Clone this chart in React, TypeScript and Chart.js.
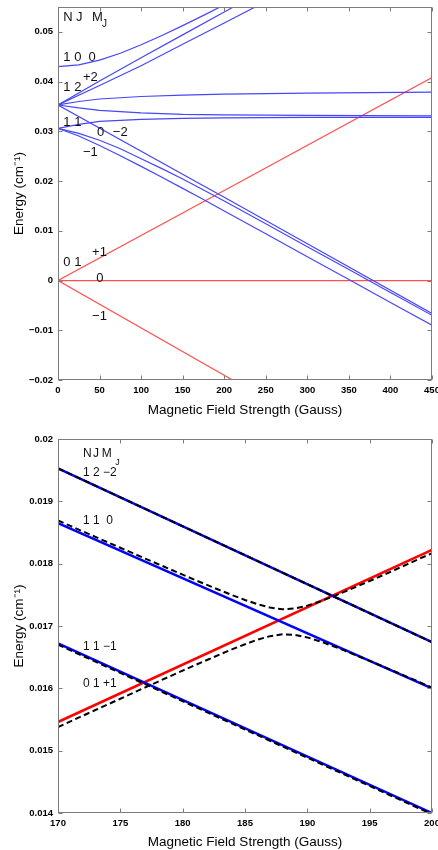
import React, { useEffect, useRef } from "react";
import { Chart, registerables } from "chart.js";
Chart.register(...registerables);

// ---------------- Top panel: Zeeman levels 0–450 G ----------------
const TOP_X_TICKS = [0, 50, 100, 150, 200, 250, 300, 350, 400, 450];
const TOP_Y_TICKS = [-0.02, -0.01, 0, 0.01, 0.02, 0.03, 0.04, 0.05];
const TOP_Y_LABELS = ["\u22120.02", "\u22120.01", "0", "0.01", "0.02", "0.03", "0.04", "0.05"];

// N=1 J=0 M=0
const B_CURVE = [0, 25, 50, 75, 100, 125, 150, 175, 200, 225];
const N1J0_M0 = [0.043, 0.04335, 0.04431, 0.04571, 0.0474, 0.04927, 0.05125, 0.05331, 0.05542, 0.05757];

// N=1 J=2 rising branches
const B_UP = [0, 50, 100, 150, 200, 250];
const N1J2_UP_A = [0.0353, 0.0401, 0.0448, 0.0494, 0.054, 0.0586];
const N1J2_UP_B = [0.0353, 0.0392, 0.0432, 0.0475, 0.0518, 0.0561];

// nearly flat branches
const B_FLAT = [0, 25, 50, 100, 150, 200, 300, 450];
const N1J2_FLAT_UP = [0.0353, 0.036, 0.0365, 0.037, 0.0373, 0.0375, 0.0377, 0.0379];
const N1J2_FLAT_DOWN = [0.0353, 0.0347, 0.0342, 0.0337, 0.0334, 0.0333, 0.0332, 0.0331];
const N1J1_FLAT_UP = [0.0306, 0.0314, 0.032, 0.0324, 0.0326, 0.0327, 0.0328, 0.0328];

// descending branches
const B_M2 = [0, 170, 200, 450];
const N1J2_Mm2 = [0.0353, 0.01953, 0.01674, -0.0066];
const B_DESC = [0, 25, 50, 75, 100, 125, 150, 170, 200, 250, 300, 350, 400, 450];
const N1J1_M0 = [0.0306, 0.0296, 0.0282, 0.0265, 0.0245, 0.0225, 0.0204, 0.01865, 0.016, 0.0114, 0.0068, 0.0022, -0.0024, -0.007];
const N1J1_Mm1 = [0.0306, 0.02905, 0.02715, 0.0251, 0.02295, 0.02075, 0.01853, 0.01673, 0.014, 0.0094, 0.0048, 0.0002, -0.0044, -0.009];

// N=0 J=1 (red)
const B_RED = [0, 210, 450];
const N0J1_Mp1 = [0, 0.019, 0.0408];
const N0J1_M0 = [0, 0, 0];
const N0J1_Mm1 = [0, -0.02, -0.0429];

// labels: [field, energy, text]
const TOP_TEXT: [number, number, string][] = [
  [6.4, 0.053, "N"],
  [21.7, 0.053, "J"],
  [41, 0.053, "M"],
  [6.4, 0.0448, "1 0  0"],
  [30, 0.0408, "+2"],
  [6.4, 0.0388, "1 2"],
  [6.4, 0.0317, "1 1"],
  [47, 0.0297, "0"],
  [66, 0.0297, "\u22122"],
  [30, 0.0257, "\u22121"],
  [6.4, 0.00374, "0 1"],
  [41, 0.00575, "+1"],
  [46, 0.0005, "0"],
  [41, -0.0073, "\u22121"],
];
const TOP_SUB: [number, number, string][] = [[52.9, 0.0515, "J"]];

// ---------------- Bottom panel: 170–200 G detail ----------------
const BOT_X_TICKS = [170, 175, 180, 185, 190, 195, 200];
const BOT_Y_TICKS = [0.014, 0.015, 0.016, 0.017, 0.018, 0.019, 0.02];
const BOT_Y_LABELS = ["0.014", "0.015", "0.016", "0.017", "0.018", "0.019", "0.02"];

const B_ENDS = [170, 200];
const Z_N1J2_Mm2 = [0.01953, 0.01674];
const Z_N1J1_M0 = [0.01865, 0.016];
const Z_N1J1_Mm1 = [0.01672, 0.014];
const Z_N0J1_Mp1 = [0.01546, 0.01822];

// perturbed levels (dashed)
const B_FINE = [170, 171, 172, 173, 174, 175, 176, 177, 178, 179, 180, 181, 182, 183, 184, 185, 186, 187, 188, 189, 190, 191, 192, 193, 194, 195, 196, 197, 198, 199, 200];
const P_UPPER = [0.018692, 0.018605, 0.018517, 0.01843, 0.018342, 0.018255, 0.018168, 0.018082, 0.017995, 0.017909, 0.017824, 0.017738, 0.017655, 0.017573, 0.017493, 0.017418, 0.01735, 0.017296, 0.017269, 0.017281, 0.017327, 0.017393, 0.017469, 0.017551, 0.017635, 0.017722, 0.01781, 0.017899, 0.017989, 0.018079, 0.018168];
const P_LOWER = [0.015378, 0.015469, 0.015561, 0.015652, 0.015742, 0.015833, 0.015924, 0.016015, 0.016105, 0.016195, 0.016284, 0.016372, 0.016459, 0.016545, 0.016629, 0.016708, 0.01678, 0.016837, 0.016867, 0.016859, 0.016817, 0.016755, 0.016683, 0.016605, 0.016523, 0.01644, 0.016356, 0.016271, 0.016185, 0.016099, 0.016012];
const P_N1J2_Mm2 = [0.01953, 0.01674];
const P_N1J1_Mm1 = [0.0167, 0.01398];

const BOT_TEXT: [number, number, string][] = [
  [172, 0.01976, "N"],
  [172.8, 0.01976, "J"],
  [173.5, 0.01976, "M"],
  [172, 0.01946, "1 2 \u22122"],
  [172, 0.01869, "1 1  0"],
  [172, 0.01667, "1 1 \u22121"],
  [172, 0.01607, "0 1 +1"],
];
const BOT_SUB: [number, number, string][] = [[174.6, 0.01962, "J"]];

// ---------------- helpers ----------------
const FAMILY = "'Liberation Sans', Arial, Helvetica, sans-serif";
const BLUE_THIN = "rgb(70,70,250)";
const RED_THIN = "rgb(255,80,80)";

const pts = (xs: number[], ys: number[]) => xs.map((x, i) => ({ x, y: ys[i] }));

function line(xs: number[], ys: number[], color: string, width: number, dash: number[] = [], order = 1) {
  return {
    data: pts(xs, ys),
    borderColor: color,
    borderWidth: width,
    borderDash: dash,
    pointRadius: 0,
    fill: false,
    tension: 0,
    order,
  };
}

function scales(xTicks: number[], xMin: number, xMax: number, yTicks: number[], yLabels: string[], yMin: number, yMax: number, xHeight: number, xTitlePad: number) {
  const tickFont = { family: FAMILY, size: 9.5, weight: "bold" as const };
  const titleFont = { family: FAMILY, size: 13.5, weight: "normal" as const };
  return {
    x: {
      type: "linear" as const,
      min: xMin,
      max: xMax,
      afterBuildTicks: (s: any) => {
        s.ticks = xTicks.map((v) => ({ value: v }));
      },
      afterFit: (s: any) => {
        s.height = xHeight;
        s.paddingLeft = 0;
        s.paddingRight = 0;
      },
      grid: { display: false, drawTicks: false, tickLength: 0 },
      border: { display: false },
      ticks: { autoSkip: false, maxRotation: 0, padding: 5, color: "#000", font: tickFont, callback: (v: any) => String(v) },
      title: { display: true, text: "Magnetic Field Strength (Gauss)", color: "#000", font: titleFont, padding: { top: 0, bottom: xTitlePad } },
    },
    y: {
      type: "linear" as const,
      min: yMin,
      max: yMax,
      afterBuildTicks: (s: any) => {
        s.ticks = yTicks.map((v) => ({ value: v }));
      },
      afterFit: (s: any) => {
        s.width = 58;
        s.paddingTop = 0;
        s.paddingBottom = 0;
      },
      grid: { display: false, drawTicks: false, tickLength: 0 },
      border: { display: false },
      ticks: {
        padding: 5,
        color: "#000",
        font: tickFont,
        callback: (v: any) => {
          const i = yTicks.findIndex((t) => Math.abs(t - v) < 1e-9);
          return i >= 0 ? yLabels[i] : "";
        },
      },
      title: { display: true, text: "Energy (cm\u207B\u00B9)", color: "#000", font: titleFont, padding: { top: 11, bottom: 0 } },
    },
  };
}

function boxPlugin(xTicks: number[], yTicks: number[]) {
  return {
    id: "matlabBox",
    afterDatasetsDraw(chart: any) {
      const { ctx, chartArea: a, scales: s } = chart;
      const L = Math.round(a.left) + 0.5;
      const R = Math.round(a.right) - 0.5;
      const T = Math.round(a.top) + 0.5;
      const B = Math.round(a.bottom) - 0.5;
      ctx.save();
      ctx.strokeStyle = "#7d7d7d";
      ctx.lineWidth = 1;
      ctx.strokeRect(L, T, R - L, B - T);
      ctx.beginPath();
      const len = 4;
      xTicks.forEach((v) => {
        const px = Math.round(s.x.getPixelForValue(v)) + 0.5;
        ctx.moveTo(px, B);
        ctx.lineTo(px, B - len);
        ctx.moveTo(px, T);
        ctx.lineTo(px, T + len);
      });
      yTicks.forEach((v) => {
        const py = Math.round(s.y.getPixelForValue(v)) + 0.5;
        ctx.moveTo(L, py);
        ctx.lineTo(L + len, py);
        ctx.moveTo(R, py);
        ctx.lineTo(R - len, py);
      });
      ctx.stroke();
      ctx.restore();
    },
  };
}

function labelPlugin(main: [number, number, string][], sub: [number, number, string][], size: number, subSize: number) {
  return {
    id: "levelLabels",
    afterDraw(chart: any) {
      const { ctx, scales: s } = chart;
      ctx.save();
      ctx.fillStyle = "#111";
      ctx.textAlign = "left";
      ctx.textBaseline = "middle";
      ctx.font = `${size}px ${FAMILY}`;
      main.forEach(([b, e, t]) => ctx.fillText(t, s.x.getPixelForValue(b), s.y.getPixelForValue(e)));
      ctx.font = `${subSize}px ${FAMILY}`;
      sub.forEach(([b, e, t]) => ctx.fillText(t, s.x.getPixelForValue(b), s.y.getPixelForValue(e)));
      ctx.restore();
    },
  };
}

function topConfig(): any {
  return {
    type: "line",
    data: {
      datasets: [
        line(B_CURVE, N1J0_M0, BLUE_THIN, 1.2),
        line(B_UP, N1J2_UP_A, BLUE_THIN, 1.2),
        line(B_UP, N1J2_UP_B, BLUE_THIN, 1.2),
        line(B_FLAT, N1J2_FLAT_UP, BLUE_THIN, 1.2),
        line(B_FLAT, N1J2_FLAT_DOWN, BLUE_THIN, 1.2),
        line(B_FLAT, N1J1_FLAT_UP, BLUE_THIN, 1.2),
        line(B_M2, N1J2_Mm2, BLUE_THIN, 1.2),
        line(B_DESC, N1J1_M0, BLUE_THIN, 1.2),
        line(B_DESC, N1J1_Mm1, BLUE_THIN, 1.2),
        line(B_RED, N0J1_Mp1, RED_THIN, 1.2),
        line(B_RED, N0J1_M0, RED_THIN, 1.2),
        line(B_RED, N0J1_Mm1, RED_THIN, 1.2),
      ],
    },
    options: {
      responsive: false,
      animation: false,
      events: [],
      layout: { padding: { left: 0, right: 6, top: 7, bottom: 0 } },
      plugins: { legend: { display: false }, tooltip: { enabled: false } },
      scales: scales(TOP_X_TICKS, 0, 450, TOP_Y_TICKS, TOP_Y_LABELS, -0.02, 0.055, 45, 7),
    },
    plugins: [boxPlugin(TOP_X_TICKS, TOP_Y_TICKS), labelPlugin(TOP_TEXT, TOP_SUB, 13, 10)],
  };
}

function bottomConfig(): any {
  return {
    type: "line",
    data: {
      datasets: [
        line(B_FINE, P_UPPER, "#000", 2, [6, 3.5], 0),
        line(B_FINE, P_LOWER, "#000", 2, [6, 3.5], 0),
        line(B_ENDS, P_N1J2_Mm2, "#000", 2, [6, 3.5], 0),
        line(B_ENDS, P_N1J1_Mm1, "#000", 2, [6, 3.5], 0),
        line(B_ENDS, Z_N1J2_Mm2, "rgb(0,0,255)", 2.5),
        line(B_ENDS, Z_N1J1_M0, "rgb(0,0,255)", 2.5),
        line(B_ENDS, Z_N1J1_Mm1, "rgb(0,0,255)", 2.5),
        line(B_ENDS, Z_N0J1_Mp1, "rgb(255,0,0)", 2.5),
      ],
    },
    options: {
      responsive: false,
      animation: false,
      events: [],
      layout: { padding: { left: 0, right: 6, top: 14, bottom: 0 } },
      plugins: { legend: { display: false }, tooltip: { enabled: false } },
      scales: scales(BOT_X_TICKS, 170, 200, BOT_Y_TICKS, BOT_Y_LABELS, 0.014, 0.02, 37, 0),
    },
    plugins: [boxPlugin(BOT_X_TICKS, BOT_Y_TICKS), labelPlugin(BOT_TEXT, BOT_SUB, 12, 9)],
  };
}

export default function App() {
  const topRef = useRef<HTMLCanvasElement>(null);
  const botRef = useRef<HTMLCanvasElement>(null);
  useEffect(() => {
    const c1 = new Chart(topRef.current as HTMLCanvasElement, topConfig());
    const c2 = new Chart(botRef.current as HTMLCanvasElement, bottomConfig());
    return () => {
      c1.destroy();
      c2.destroy();
    };
  }, []);
  return (
    <div style={{ position: "absolute", left: 0, top: 0, width: 438, height: 850, background: "#fff", overflow: "hidden" }}>
      <canvas ref={topRef} width={438} height={425} style={{ position: "absolute", left: 0, top: 0, width: 438, height: 425 }} />
      <canvas ref={botRef} width={438} height={425} style={{ position: "absolute", left: 0, top: 425, width: 438, height: 425 }} />
    </div>
  );
}
